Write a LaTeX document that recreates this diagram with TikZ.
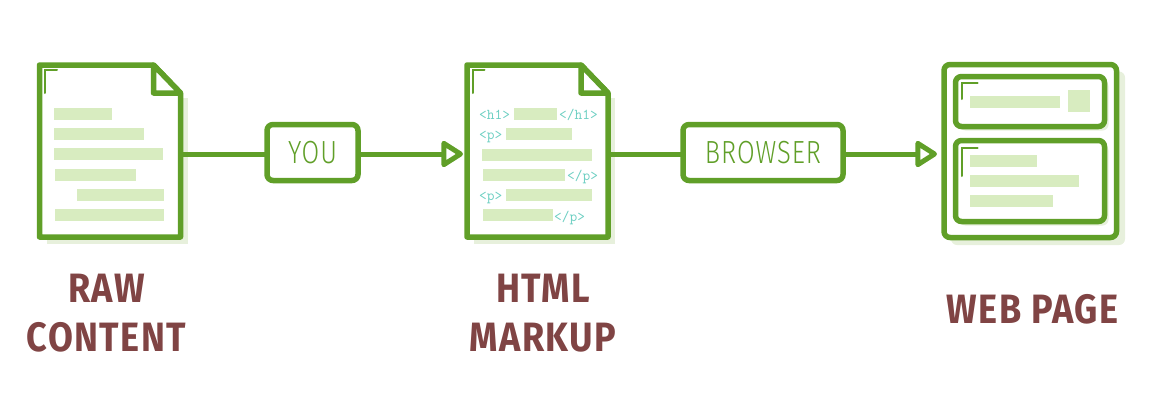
\documentclass[tikz,border=0pt]{standalone}
\usepackage{fontspec}
\usetikzlibrary{arrows.meta}
\newfontfamily\titlefont[FakeStretch=0.88,LetterSpace=3.5]{Fira Sans Bold}
\newfontfamily\stepfont[FakeStretch=0.8,LetterSpace=3]{Fira Sans Light}
\definecolor{leaf}{HTML}{609F28}
\definecolor{barfill}{HTML}{D8ECC0}
\definecolor{backdrop}{HTML}{E7F0DC}
\definecolor{tagtext}{HTML}{6CCFC2}
\definecolor{brick}{HTML}{804444}
\tikzset{
    outline/.style={draw=leaf, line width=5.5pt, line join=round},
    corner/.style={draw=leaf, line width=2pt, line cap=round},
    holder/.style={inner sep=0, outer sep=0},
    bar/.style={fill=barfill, inner sep=0, outer sep=0, anchor=west, minimum height=12pt},
    tag/.style={text=tagtext, inner sep=0, anchor=base west, font=\fontsize{15}{15}\ttfamily},
    stepbox/.style={outline, fill=white, rounded corners=6pt, minimum height=56pt, inner sep=0, outer sep=2.5pt,
        text=leaf, font=\fontsize{32}{32}\stepfont},
    title/.style={text=brick, align=center, inner sep=0, font=\fontsize{41}{49}\titlefont},
    wire/.style={draw=leaf, line width=5pt},
    flow/.style={wire, -{Triangle[open, length=24pt, width=29pt, fill=white, round]}}
}
\newcommand{\docshape}[1]{
    \fill [backdrop] ([shift={(7,33)}]#1.north west) -- ([shift={(7,33)}]#1.north east) -- ([shift={(7,7)}]#1.south east) -- ([shift={(7,7)}]#1.south west) -- cycle;
    \path [outline, fill=white] (#1.north west) -- ++(114,0) -- ([shift={(0,28)}]#1.north east) -- (#1.south east) -- (#1.south west) -- cycle;
    \path [outline, fill=white] ([xshift=114]#1.north west) -- ++(0,28) -- ([shift={(0,28)}]#1.north east) -- cycle;
    \path [corner] ([shift={(5.5,28)}]#1.north west) -- ++(0,-23) -- ++(12,0);
}
\begin{document}
\begin{tikzpicture}[x=1pt, y=-1pt]
    \useasboundingbox (0,0) rectangle (1160,402);

    \node (rawdoc) [holder, minimum width=141pt, minimum height=172pt] at (110,151) {};
    \node (markupdoc) [holder, minimum width=141pt, minimum height=172pt] at (537.5,151) {};
    \node (you) [stepbox, minimum width=91pt] at (312.5,152.5) {YOU};
    \node (browser) [stepbox, minimum width=160pt] at (763,152.5) {BROWSER};
    \node (webpage) [holder, minimum width=172.5pt, minimum height=173pt] at (1030.25,151) {};
    \coordinate (flowline) at (0,154);

    % raw content page
    \docshape{rawdoc}
    \foreach \i/\x/\y/\w in {1/54/114/58, 2/54/134/90, 3/54/154/109, 4/54.5/174.5/81.5, 5/76.5/195/87.5, 6/54.5/215/109.5}
        \node (rawbar\i) [bar, minimum width=\w pt] at (\x,\y) {};

    % markup page
    \docshape{markupdoc}
    \foreach \i/\x/\y/\w in {1/514/114/42.5, 2/506/134/66, 3/482/154.5/110, 4/482.5/175/82, 5/506/195/86, 6/482.5/215/70.5}
        \node (markupbar\i) [bar, minimum width=\w pt] at (\x,\y) {};
    \node (tagh) [tag] at (479,119) {<h1>};
    \node (tagendh) [tag] at (559,119) {</h1>};
    \node (tagp) [tag] at (479,139) {<p>};
    \node (tagendp) [tag] at (567,180) {</p>};
    \node (tagq) [tag] at (479,200) {<p>};
    \node (tagendq) [tag] at (554,221) {</p>};

    % finished page
    \fill [backdrop, rounded corners=6pt] (951,71.5) rectangle (1125,245);
    \path [outline, fill=white, rounded corners=6pt] (webpage.north west) rectangle (webpage.south east);
    \node (head) [holder, minimum width=149pt, minimum height=50pt] at (1030,101.5) {};
    \node (main) [holder, minimum width=149pt, minimum height=81pt] at (1030,181) {};
    \foreach \part in {head, main} {
        \fill [backdrop, rounded corners=6pt] ([shift={(4,4)}]\part.north west) rectangle ([shift={(4,4)}]\part.south east);
        \path [outline, fill=white, rounded corners=6pt] (\part.north west) rectangle (\part.south east);
    }
    \path [corner] (962,99) -- (962,83) -- (977.5,83);
    \path [corner] (962,176) -- (962,148) -- (977.5,148);
    \foreach \i/\x/\y/\w in {1/970/101.5/90, 2/970/161/67, 3/970/181/109, 4/970/201/83}
        \node (webbar\i) [bar, minimum width=\w pt] at (\x,\y) {};
    \node (thumb) [bar, minimum width=22pt, minimum height=22pt] at (1068,101) {};

    \draw [wire] (rawdoc.east |- flowline) -- (you.west |- flowline);
    \draw [wire] (markupdoc.east |- flowline) -- (browser.west |- flowline);
    \path [flow, shorten >=4pt] (you.east |- flowline) -- (markupdoc.west |- flowline);
    \path [flow, shorten >=7pt] (browser.east |- flowline) -- (webpage.west |- flowline);

    \node (rawlabel) [title] at (106.5,313) {RAW\\CONTENT};
    \node (markuplabel) [title] at (543,313) {HTML\\MARKUP};
    \node (pagelabel) [title] at (1032.5,309.5) {WEB\hspace{10pt}PAGE};
\end{tikzpicture}
\end{document}
